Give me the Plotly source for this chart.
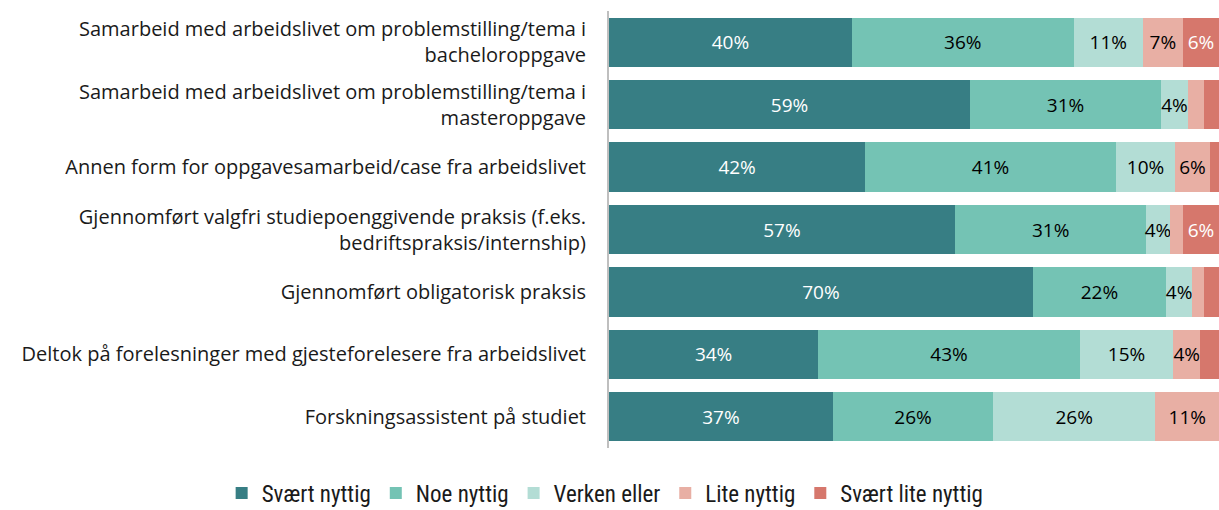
import plotly.graph_objects as go

categories = [
    "Samarbeid med arbeidslivet om problemstilling/tema i<br>bacheloroppgave",
    "Samarbeid med arbeidslivet om problemstilling/tema i<br>masteroppgave",
    "Annen form for oppgavesamarbeid/case fra arbeidslivet",
    "Gjennomført valgfri studiepoenggivende praksis (f.eks.<br>bedriftspraksis/internship)",
    "Gjennomført obligatorisk praksis",
    "Deltok på forelesninger med gjesteforelesere fra arbeidslivet",
    "Forskningsassistent på studiet",
]

series_names = ["Svært nyttig", "Noe nyttig", "Verken eller", "Lite nyttig", "Svært lite nyttig"]

svaert_nyttig = [39.8, 59.2, 42.0, 56.7, 69.5, 34.3, 36.7]
noe_nyttig = [36.4, 31.3, 41.1, 31.4, 21.8, 42.9, 26.3]
verken_eller = [11.3, 4.4, 9.7, 3.8, 4.3, 15.3, 26.5]
lite_nyttig = [6.6, 2.6, 5.7, 2.2, 1.9, 4.4, 10.6]
svaert_lite_nyttig = [5.9, 2.5, 1.5, 5.9, 2.5, 3.1, 0.2]

colors = ["#377E84", "#74C3B4", "#B3DDD5", "#E8AFA4", "#D6776C"]
text_colors = ["white", "black", "black", "black", "white"]

all_values = [svaert_nyttig, noe_nyttig, verken_eller, lite_nyttig, svaert_lite_nyttig]

fig = go.Figure()
for name, vals, col, tcol in zip(series_names, all_values, colors, text_colors):
    labels = [f"{round(v)}%" if v >= 3.5 else "" for v in vals]
    fig.add_trace(go.Bar(
        y=categories, x=vals, name=name, orientation="h",
        marker=dict(color=col, line=dict(width=0)),
        text=labels, textposition="inside", insidetextanchor="middle",
        textangle=0, constraintext="none",
        textfont=dict(color=tcol, size=19, family="Open Sans, Liberation Sans, sans-serif"),
        hoverinfo="skip",
    ))

fig.update_layout(
    barmode="stack",
    bargap=0.21,
    width=1219, height=510,
    margin=dict(l=609, r=0, t=11, b=62, autoexpand=False),
    plot_bgcolor="white", paper_bgcolor="white",
    font=dict(family="Open Sans, Liberation Sans, sans-serif", size=20, color="#1a1a1a"),
    legend=dict(
        orientation="h", xref="paper", yref="paper",
        x=-0.635, xanchor="left", y=-0.054, yanchor="top",
        font=dict(size=23, family="Liberation Sans Narrow, Roboto Condensed, Roboto, sans-serif"),
        traceorder="normal",
    ),
    xaxis=dict(range=[0, 100], visible=False, fixedrange=True, automargin=False),
    yaxis=dict(
        autorange="reversed", showline=True, linecolor="#BFBFBF", linewidth=2,
        showgrid=False, ticks="", ticklabelstandoff=17, automargin=False,
        tickfont=dict(size=20, color="#1a1a1a"),
    ),
)

fig.write_html("out.html", config={"displayModeBar": False},
               post_script="document.body.style.margin='0';")
